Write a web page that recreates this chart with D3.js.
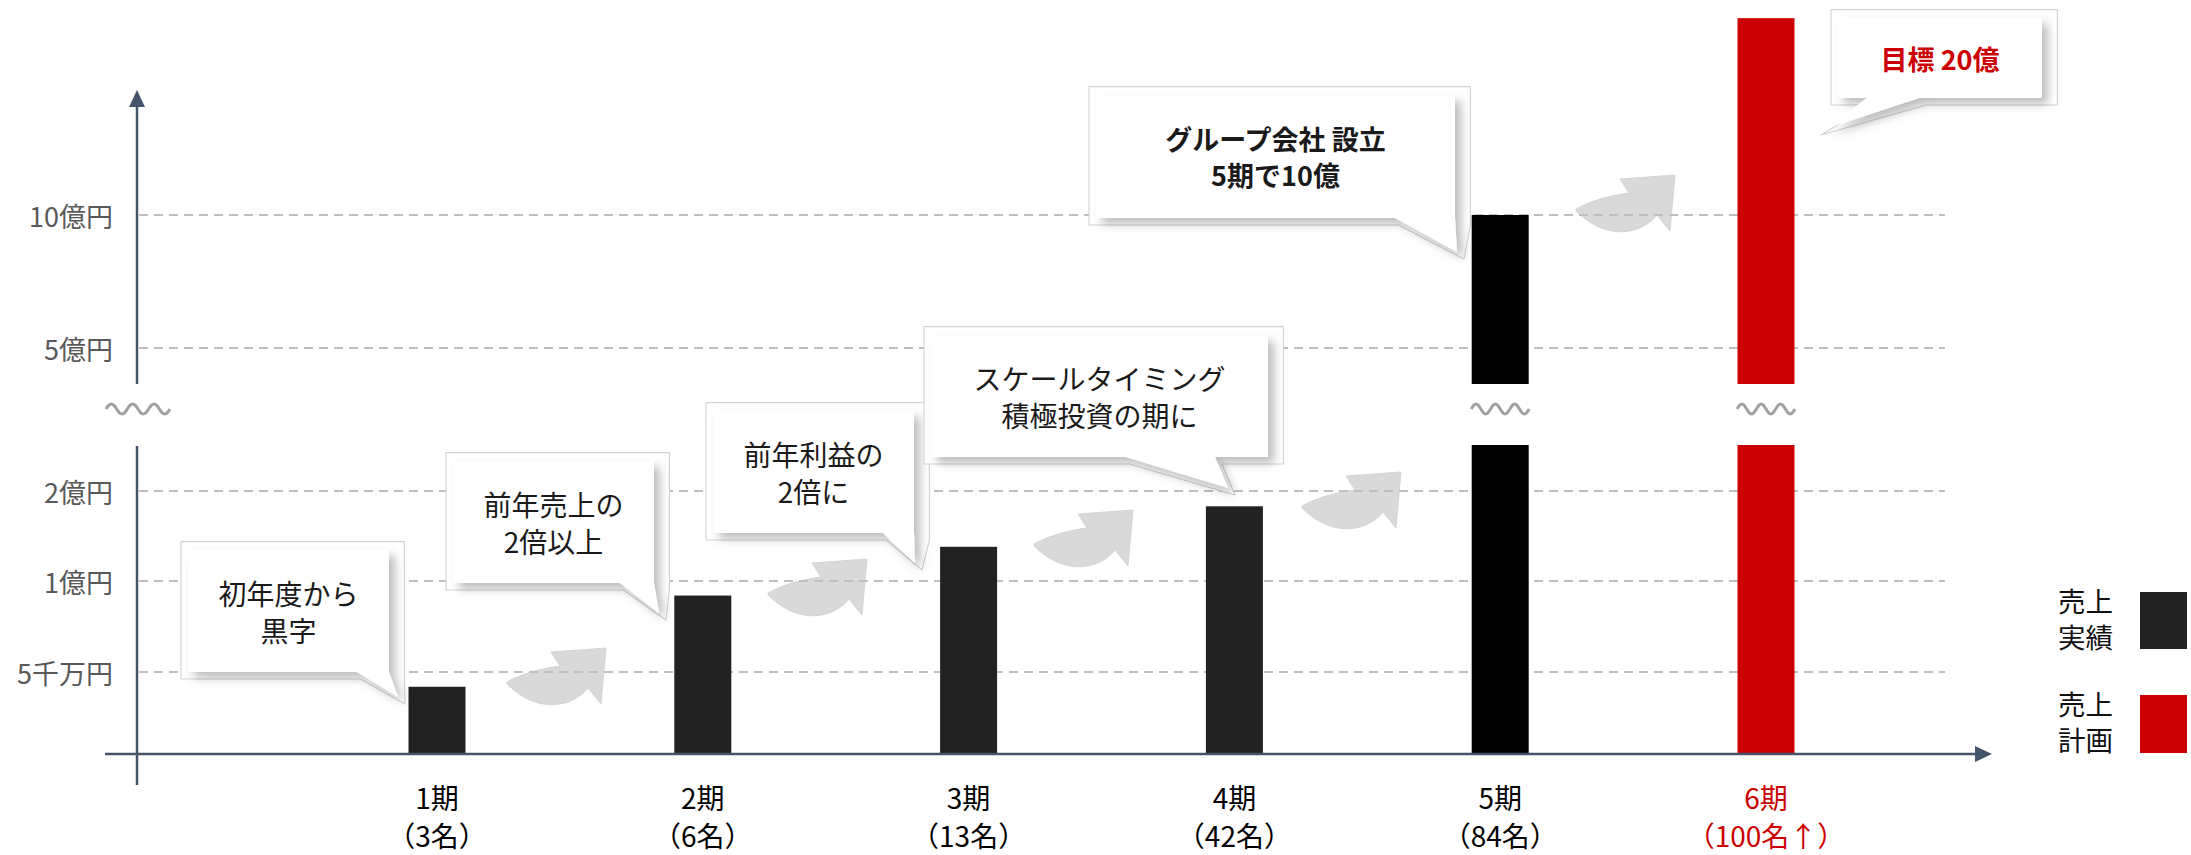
<!DOCTYPE html>
<html><head><meta charset="utf-8">
<script src="https://cdn.jsdelivr.net/npm/d3@7"></script>
<style>
html,body{margin:0;padding:0;background:#fff;}
svg{display:block;font-family:"Noto Sans CJK JP","Noto Sans",sans-serif;}
</style></head><body>
<svg id="chart" width="2191" height="855"></svg>
<script>
// ---------------- DATA ----------------
const categories = ["1期","2期","3期","4期","5期","6期"];
const headcounts = ["（3名）","（6名）","（13名）","（42名）","（84名）","（100名↑）"];
const sales = [0.41, 0.92, 1.38, 1.83, 10, 17.4];          // 億円
const seriesKind = ["実績","実績","実績","実績","実績","計画"];
const lowTicks = [0.5, 1, 2];
const lowTickLabels = ["5千万円","1億円","2億円"];
const highTicks = [5, 10];
const highTickLabels = ["5億円","10億円"];
const legendLabels = [["売上","実績"],["売上","計画"]];
const calloutTexts = [
  ["初年度から","黒字"],
  ["前年売上の","2倍以上"],
  ["前年利益の","2倍に"],
  ["スケールタイミング","積極投資の期に"],
  ["グループ会社 設立","5期で10億"],
  ["目標 20億"]
];

// ---------------- LAYOUT / STYLE ----------------
const AXIS_X = 137, BASE_Y = 754;
const LOW_TOP = 445, HIGH_BOTTOM = 384;
const BREAK_VALUE = 2.5;
const BAR_W = 57;
const AXIS_COLOR = "#44546A";
const RED = "#CC0000";
const barColors = ["#222222","#222222","#222222","#222222","#000000",RED];
const labelColors = ["#000","#000","#000","#000","#000",RED];

const x = d3.scalePoint().domain(categories).range([437, 1766]);
const yLow = d3.scaleLinear().domain([0, 0.5, 1, 2]).range([BASE_Y, 672, 581, 491]);
const yHigh = d3.scaleLinear().domain([5, 10]).range([348, 215]);

const calloutLayout = [
  {box:[188,550,389,672],  tail:[357,389],   tip:[398,697]},
  {box:[453,461,654,583],  tail:[620,654],   tip:[659,613]},
  {box:[713,411,914,533],  tail:[883,914],   tip:[915,563]},
  {box:[931,335,1268,457], tail:[1126,1215], tip:[1228,488]},
  {box:[1096,95,1455,218], tail:[1395,1455], tip:[1457,252], bold:true},
  {box:[1838,18,2042,98],  tail:[1867,1919], tip:[1828,128], bold:true, color:RED}
];
const arrowLayout = [[507,648],[768,559],[1034,510],[1302,472],[1576,175]];

const svg = d3.select("#chart");
const defs = svg.append("defs");
const f = defs.append("filter").attr("id","shadow").attr("x","-20%").attr("y","-20%").attr("width","150%").attr("height","160%");
f.append("feDropShadow").attr("dx",6).attr("dy",6).attr("stdDeviation",5)
  .attr("flood-color","#000").attr("flood-opacity",0.26);

// ---- curved gray arrows ----
const arrowPath = "M0,34 C18,24 38,20 53,18 L44,4 L99,0 L94,56 L81,40 C65,60 30,66 0,36 Z";
svg.append("g").selectAll("path").data(arrowLayout).join("path")
  .attr("d", arrowPath)
  .attr("transform", d => `translate(${d[0]},${d[1]})`)
  .attr("fill", "#D9D9D9")
  .attr("stroke", "#cfcfcf").attr("stroke-width", 0.8);

// ---- gridlines ----
const grid = svg.append("g").attr("stroke","#BFBFBF").attr("stroke-width",2).attr("stroke-dasharray","9,6");
grid.selectAll("line.low").data(lowTicks).join("line").attr("class","low")
  .attr("x1", AXIS_X + 2).attr("x2", 1945).attr("y1", d => yLow(d)).attr("y2", d => yLow(d));
grid.selectAll("line.high").data(highTicks).join("line").attr("class","high")
  .attr("x1", AXIS_X + 2).attr("x2", 1945).attr("y1", d => yHigh(d)).attr("y2", d => yHigh(d));

// ---- tick labels ----
const tickG = svg.append("g").attr("font-size",27).attr("fill","#595959").attr("text-anchor","end");
tickG.selectAll("text.low").data(lowTicks).join("text").attr("class","low")
  .attr("x", 113).attr("y", d => yLow(d)).attr("dominant-baseline","central")
  .text((d,i) => lowTickLabels[i]);
tickG.selectAll("text.high").data(highTicks).join("text").attr("class","high")
  .attr("x", 113).attr("y", d => yHigh(d)).attr("dominant-baseline","central")
  .text((d,i) => highTickLabels[i]);

// ---- bars ----
const barData = sales.map((v,i) => ({v, i, cat: categories[i]}));
const barG = svg.append("g");
barData.forEach(d => {
  const cx = x(d.cat);
  if (d.v <= BREAK_VALUE) {
    barG.append("rect").attr("x", cx - BAR_W/2).attr("y", yLow(d.v))
      .attr("width", BAR_W).attr("height", yLow(0) - yLow(d.v)).attr("fill", barColors[d.i]);
  } else {
    barG.append("rect").attr("x", cx - BAR_W/2).attr("y", LOW_TOP)
      .attr("width", BAR_W).attr("height", yLow(0) - LOW_TOP).attr("fill", barColors[d.i]);
    barG.append("rect").attr("x", cx - BAR_W/2).attr("y", yHigh(d.v))
      .attr("width", BAR_W).attr("height", HIGH_BOTTOM - yHigh(d.v)).attr("fill", barColors[d.i]);
  }
});

// ---- break waves ----
function wave(cx, cy, w) {
  const pts = d3.range(0, 61).map(k => {
    const t = k / 60;
    return [cx - w/2 + t*w, cy - 5*Math.sin(2*Math.PI*3*t)];
  });
  return d3.line().curve(d3.curveCardinal)(pts);
}
const waveCenters = [AXIS_X + 1].concat(barData.filter(d => d.v > BREAK_VALUE).map(d => x(d.cat)));
svg.append("g").selectAll("path").data(waveCenters).join("path")
  .attr("d", (d,i) => wave(d, 409, i === 0 ? 64 : 58))
  .attr("fill","none").attr("stroke","#A0A0A0").attr("stroke-width",3);

// ---- axes ----
const ax = svg.append("g").attr("stroke", AXIS_COLOR).attr("stroke-width", 2.5);
ax.append("line").attr("x1", AXIS_X).attr("x2", AXIS_X).attr("y1", 785).attr("y2", LOW_TOP + 1);
ax.append("line").attr("x1", AXIS_X).attr("x2", AXIS_X).attr("y1", HIGH_BOTTOM).attr("y2", 104);
ax.append("line").attr("x1", 105).attr("x2", 1977).attr("y1", BASE_Y).attr("y2", BASE_Y);
svg.append("path").attr("d", `M${AXIS_X},90 L${AXIS_X-8},107 L${AXIS_X+8},107 Z`).attr("fill", AXIS_COLOR);
svg.append("path").attr("d", `M1992,${BASE_Y} L1975,${BASE_Y-8} L1975,${BASE_Y+8} Z`).attr("fill", AXIS_COLOR);

// ---- category labels ----
const catG = svg.append("g").attr("font-size",28).attr("text-anchor","middle");
catG.selectAll("text.c").data(categories).join("text").attr("class","c")
  .attr("x", d => x(d)).attr("y", 797).attr("dominant-baseline","central")
  .attr("fill", (d,i) => labelColors[i]).text(d => d);
catG.selectAll("text.h").data(headcounts).join("text").attr("class","h")
  .attr("x", (d,i) => x(categories[i])).attr("y", 835).attr("dominant-baseline","central")
  .attr("fill", (d,i) => labelColors[i]).text(d => d);

// ---- callouts ----
function calloutPath(c, pad) {
  const [x0,y0,x1,y1] = c.box;
  const p = pad || 0;
  const X0 = x0 - p, Y0 = y0 - p*1.2, X1 = x1 + p*2.2, Y1 = y1 + p;
  const tl = c.tail[0] + (c.tail[0] === x0 ? -p : p*0.5);
  const tr = c.tail[1] === x1 ? X1 : c.tail[1] + p;
  const tip = [c.tip[0] + (c.tip[0] > x0 ? p : -p), c.tip[1] + p];
  return `M${X0},${Y0} H${X1} V${Y1} H${tr} L${tip[0]},${tip[1]} L${tl},${Y1} H${X0} Z`;
}
const cg = svg.append("g");
calloutLayout.forEach((c, i) => {
  cg.append("path").attr("d", calloutPath(c, 7)).attr("fill","#fff")
    .attr("stroke","#d2d2d2").attr("stroke-width",1.1).attr("stroke-linejoin","round");
  cg.append("path").attr("d", calloutPath(c, 0)).attr("fill","#fff").attr("filter","url(#shadow)");
  const lines = calloutTexts[i];
  const cx = (c.box[0] + c.box[2]) / 2, cy = (c.box[1] + c.box[3]) / 2;
  const fs = c.bold ? 27 : 28;
  const lh = c.bold ? 35.5 : 37;
  cg.append("g").selectAll("text").data(lines).join("text")
    .attr("x", cx).attr("y", (d,k) => cy + (k - (lines.length - 1)/2) * lh)
    .attr("text-anchor","middle").attr("dominant-baseline","central")
    .attr("font-size", fs).attr("font-weight", c.bold ? 700 : 400)
    .attr("fill", c.color || "#1a1a1a").text(d => d);
});

// ---- legend ----
const legendLayout = [{y:592, h:57, color:"#222222"}, {y:695, h:58, color:RED}];
const lg = svg.append("g");
legendLabels.forEach((lines, i) => {
  const L = legendLayout[i];
  lg.append("rect").attr("x", 2140).attr("y", L.y).attr("width", 47).attr("height", L.h).attr("fill", L.color);
  lg.append("g").selectAll("text").data(lines).join("text")
    .attr("x", 2058).attr("y", (d,k) => L.y + 8 + k*36).attr("dominant-baseline","central")
    .attr("font-size", 27.5).attr("fill","#111").text(d => d);
});
</script>
</body></html>
